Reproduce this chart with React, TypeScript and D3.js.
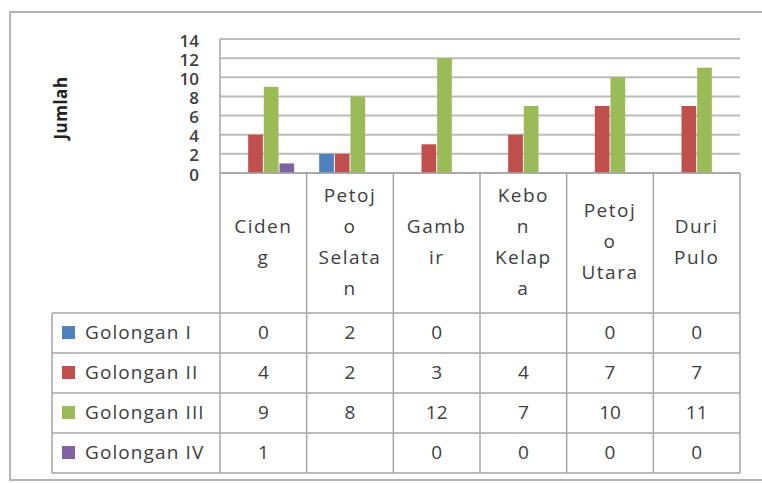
import React from 'react';
import * as d3 from 'd3';

// Excel-style column chart with a data table underneath
const categories = [
  ['Ciden', 'g'],
  ['Petoj', 'o', 'Selata', 'n'],
  ['Gamb', 'ir'],
  ['Kebo', 'n', 'Kelap', 'a'],
  ['Petoj', 'o', 'Utara'],
  ['Duri', 'Pulo']
];
const seriesNames = ['Golongan I', 'Golongan II', 'Golongan III', 'Golongan IV'];
const golonganI = [0, 2, 0, null, 0, 0];
const golonganII = [4, 2, 3, 4, 7, 7];
const golonganIII = [9, 8, 12, 7, 10, 11];
const golonganIV = [1, null, 0, 0, 0, 0];
const yTicks = [0, 2, 4, 6, 8, 10, 12, 14];

const colors = ['#4F81BD', '#C0504D', '#9BBB59', '#8064A2'];
const textColor = '#404040';
const font = '"Open Sans", "DejaVu Sans", sans-serif';

const settings = {
  plotLeft: 220,
  plotRight: 740,
  plotTop: 39,
  plotBottom: 173,
  headerBottom: 313,
  rowHeight: 40,
  legendLeft: 52
};

export default function App() {
  const { plotLeft, plotRight, plotTop, plotBottom, headerBottom, rowHeight, legendLeft } = settings;
  const series = [golonganI, golonganII, golonganIII, golonganIV];
  const catIdx = categories.map((_, i) => String(i));

  const x0 = d3.scaleBand().domain(catIdx).range([plotLeft, plotRight]);
  const x1 = d3.scaleBand()
    .domain(seriesNames)
    .range([0, x0.bandwidth()])
    .paddingInner(0.06)
    .paddingOuter(0.8);
  const y = d3.scaleLinear().domain([0, 14]).range([plotBottom, plotTop]);

  const tableBottom = headerBottom + rowHeight * seriesNames.length;
  const lineColor = '#a6a6a6';

  return (
    <svg width={762} height={483} style={{ position: 'absolute', left: 0, top: 0 }} fontFamily={font}>
      <rect x={0} y={0} width={762} height={483} fill="#fff" />
      {/* outer chart border */}
      <rect x={10} y={12} width={770} height={468} fill="none" stroke="#b4b4b4" strokeWidth={2} />

      {/* gridlines */}
      {yTicks.map(t => (
        <line key={t} x1={plotLeft} x2={plotRight} y1={y(t)} y2={y(t)} stroke="#bcbcbc" strokeWidth={2} />
      ))}
      <line x1={plotLeft} x2={plotLeft} y1={plotTop} y2={plotBottom} stroke={lineColor} strokeWidth={1.5} />

      {/* y tick labels */}
      {yTicks.map(t => (
        <text key={t} x={199} y={y(t) + 3} textAnchor="end" dominantBaseline="middle"
          fontSize={17} fontWeight={600} fill={textColor}>{t}</text>
      ))}
      <text transform={`translate(62,108) rotate(-90)`} textAnchor="middle" dominantBaseline="middle"
        fontSize={17} fontWeight={700} letterSpacing={0.5} fill="#222">Jumlah</text>

      {/* bars */}
      {series.map((vals, s) => (
        <g key={s}>
          {vals.map((v, i) => (v == null || v === 0) ? null : (
            <rect key={i}
              x={(x0(String(i)) as number) + (x1(seriesNames[s]) as number)}
              y={y(v)}
              width={x1.bandwidth()}
              height={y(0) - y(v)}
              fill={colors[s]} />
          ))}
        </g>
      ))}

      {/* data table */}
      <line x1={plotLeft} x2={plotRight} y1={plotBottom} y2={plotBottom} stroke={lineColor} strokeWidth={1.5} />
      {d3.range(seriesNames.length + 1).map(r => (
        <line key={r} x1={legendLeft} x2={plotRight}
          y1={headerBottom + r * rowHeight} y2={headerBottom + r * rowHeight}
          stroke={lineColor} strokeWidth={1.5} />
      ))}
      <line x1={legendLeft} x2={legendLeft} y1={headerBottom} y2={tableBottom} stroke={lineColor} strokeWidth={1.5} />
      {catIdx.concat(['end']).map((c, i) => {
        const xx = c === 'end' ? plotRight : (x0(c) as number);
        return <line key={i} x1={xx} x2={xx} y1={plotBottom} y2={tableBottom} stroke={lineColor} strokeWidth={1.5} />;
      })}

      {/* category headers */}
      {categories.map((lines, i) => {
        const cx = (x0(String(i)) as number) + x0.bandwidth() / 2;
        const mid = (plotBottom + headerBottom) / 2;
        const lh = 31;
        const start = mid - (lines.length - 1) * lh / 2;
        return (
          <g key={i}>
            {lines.map((ln, k) => (
              <text key={k} x={cx} y={start + k * lh} textAnchor="middle" dominantBaseline="middle"
                fontSize={19} letterSpacing={1.5} fill={textColor}>{ln}</text>
            ))}
          </g>
        );
      })}

      {/* legend rows with values */}
      {seriesNames.map((name, s) => {
        const cy = headerBottom + s * rowHeight + rowHeight / 2;
        return (
          <g key={name}>
            <rect x={62} y={cy - 7} width={13} height={13} fill={colors[s]} />
            <text x={85} y={cy + 1} dominantBaseline="middle" fontSize={19} letterSpacing={1.1} fill={textColor}>{name}</text>
            {series[s].map((v, i) => v == null ? null : (
              <text key={i} x={(x0(String(i)) as number) + x0.bandwidth() / 2} y={cy + 1}
                textAnchor="middle" dominantBaseline="middle" fontSize={19} fill={textColor}>{v}</text>
            ))}
          </g>
        );
      })}
    </svg>
  );
}
